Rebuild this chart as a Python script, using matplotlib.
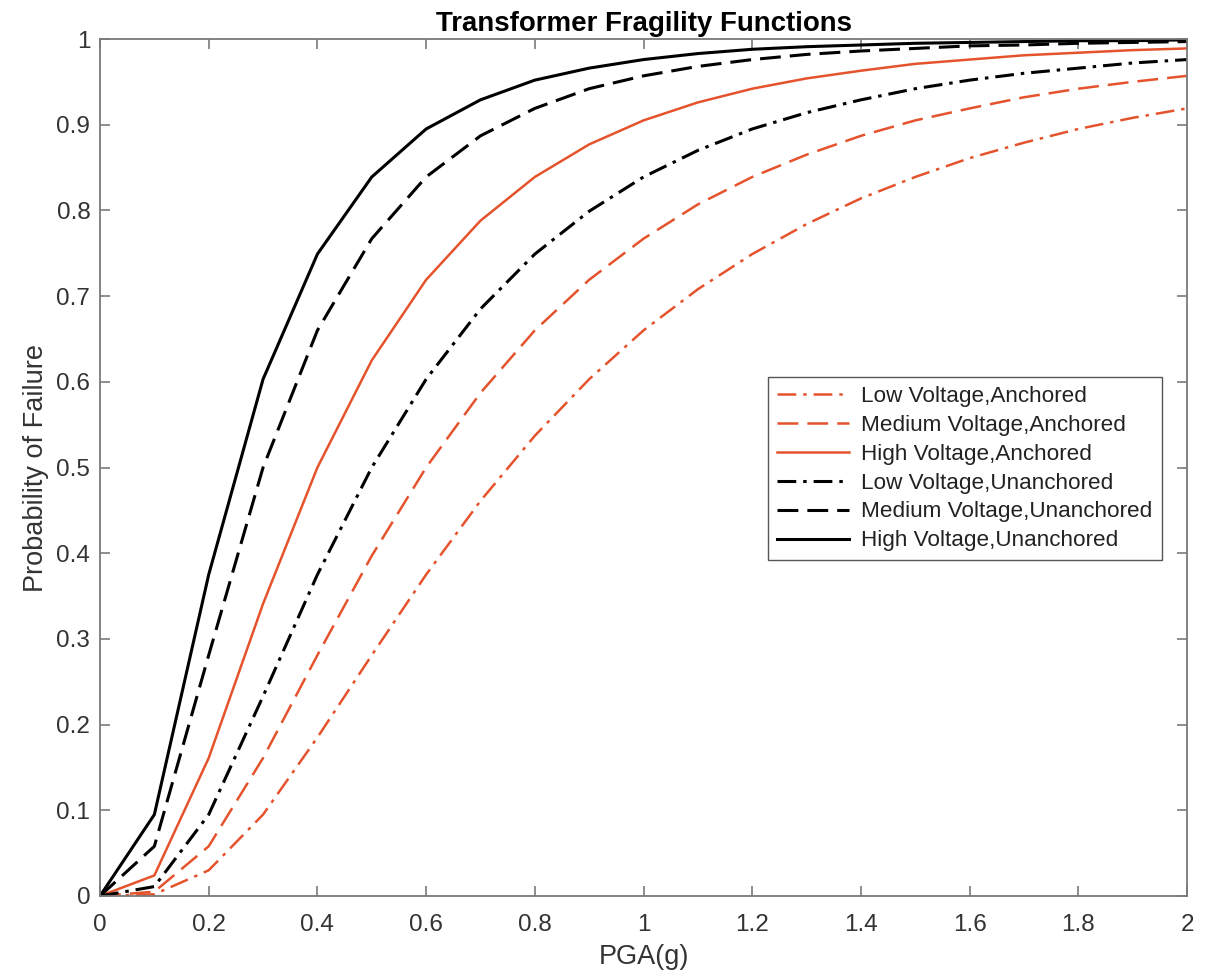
import matplotlib
matplotlib.use('Agg')
import matplotlib.pyplot as plt

plt.rcParams['font.family'] = ['Liberation Sans', 'DejaVu Sans']
plt.rcParams['lines.scale_dashes'] = False

# PGA(g) values, 0.1 step
pga = [0.0, 0.1, 0.2, 0.3, 0.4, 0.5, 0.6, 0.7, 0.8, 0.9, 1.0,
       1.1, 1.2, 1.3, 1.4, 1.5, 1.6, 1.7, 1.8, 1.9, 2.0]

# anchored
low_anch = [0.0, 0.002, 0.030, 0.095, 0.185, 0.281, 0.375, 0.461, 0.537, 0.603, 0.660,
            0.708, 0.749, 0.784, 0.814, 0.839, 0.861, 0.879, 0.895, 0.908, 0.919]
med_anch = [0.0, 0.005, 0.058, 0.161, 0.281, 0.397, 0.500, 0.587, 0.660, 0.719, 0.767,
            0.807, 0.839, 0.865, 0.887, 0.905, 0.919, 0.932, 0.942, 0.950, 0.957]
high_anch = [0.0, 0.024, 0.161, 0.341, 0.500, 0.625, 0.719, 0.788, 0.839, 0.877, 0.905,
             0.926, 0.942, 0.954, 0.963, 0.971, 0.976, 0.981, 0.984, 0.987, 0.989]
# unanchored
low_unan = [0.0, 0.011, 0.095, 0.233, 0.375, 0.500, 0.603, 0.685, 0.749, 0.799, 0.839,
            0.870, 0.895, 0.914, 0.929, 0.942, 0.952, 0.960, 0.966, 0.972, 0.976]
med_unan = [0.0, 0.058, 0.281, 0.500, 0.660, 0.767, 0.839, 0.887, 0.919, 0.942, 0.957,
            0.968, 0.976, 0.982, 0.986, 0.989, 0.992, 0.993, 0.995, 0.996, 0.997]
high_unan = [0.0, 0.095, 0.375, 0.603, 0.749, 0.839, 0.895, 0.929, 0.952, 0.966, 0.976,
             0.983, 0.988, 0.991, 0.993, 0.995, 0.996, 0.997, 0.998, 0.998, 0.999]

labels = ['Low Voltage,Anchored', 'Medium Voltage,Anchored', 'High Voltage,Anchored',
          'Low Voltage,Unanchored', 'Medium Voltage,Unanchored', 'High Voltage,Unanchored']

red = '#E5532D'
dashdot = (0, (13.5, 5, 2.5, 5))
dashed = (0, (15, 6.5))

fig = plt.figure(figsize=(12.11, 9.74), dpi=100)
ax = fig.add_axes([100/1211, 78/974, 1087/1211, 857/974])

ax.plot(pga, low_anch, color=red, lw=1.8, linestyle=dashdot, label=labels[0])
ax.plot(pga, med_anch, color=red, lw=1.8, linestyle=dashed, label=labels[1])
ax.plot(pga, high_anch, color=red, lw=1.8, linestyle='-', label=labels[2])
ax.plot(pga, low_unan, color='black', lw=2.2, linestyle=dashdot, label=labels[3])
ax.plot(pga, med_unan, color='black', lw=2.2, linestyle=dashed, label=labels[4])
ax.plot(pga, high_unan, color='black', lw=2.2, linestyle='-', label=labels[5])

ax.set_xlim(0, 2)
ax.set_ylim(0, 1)
ax.set_xticks([0, 0.2, 0.4, 0.6, 0.8, 1, 1.2, 1.4, 1.6, 1.8, 2])
ax.set_xticklabels(['0', '0.2', '0.4', '0.6', '0.8', '1', '1.2', '1.4', '1.6', '1.8', '2'])
ax.set_yticks([0, 0.1, 0.2, 0.3, 0.4, 0.5, 0.6, 0.7, 0.8, 0.9, 1])
ax.set_yticklabels(['0', '0.1', '0.2', '0.3', '0.4', '0.5', '0.6', '0.7', '0.8', '0.9', '1'])

axcol = '#7a7a7a'
for s in ax.spines.values():
    s.set_color(axcol)
    s.set_linewidth(1.3)
ax.tick_params(direction='in', length=7, width=1.2, color=axcol, labelcolor='#333333',
               labelsize=17.5, top=True, right=True)
ax.tick_params(axis='x', pad=13)
ax.tick_params(axis='y', pad=7)

ax.set_xlabel('PGA(g)', fontsize=19.5, color='#333333', labelpad=6)
ax.set_ylabel('Probability of Failure', fontsize=19.5, color='#333333', labelpad=5)
ax.set_title('Transformer Fragility Functions', fontsize=19.9, fontweight='bold', pad=6)

leg = ax.legend(loc='upper left', bbox_to_anchor=(768/1211, 1 - 377/974),
                bbox_transform=fig.transFigure, borderaxespad=0, fontsize=16.2,
                frameon=True, fancybox=False, framealpha=1, handlelength=3.2,
                handletextpad=0.55, labelspacing=0.35, borderpad=0.4)
leg.get_frame().set_edgecolor('#555555')
leg.get_frame().set_linewidth(1.0)
for t in leg.get_texts():
    t.set_color('#222222')

fig.savefig('out.png', dpi=100)
